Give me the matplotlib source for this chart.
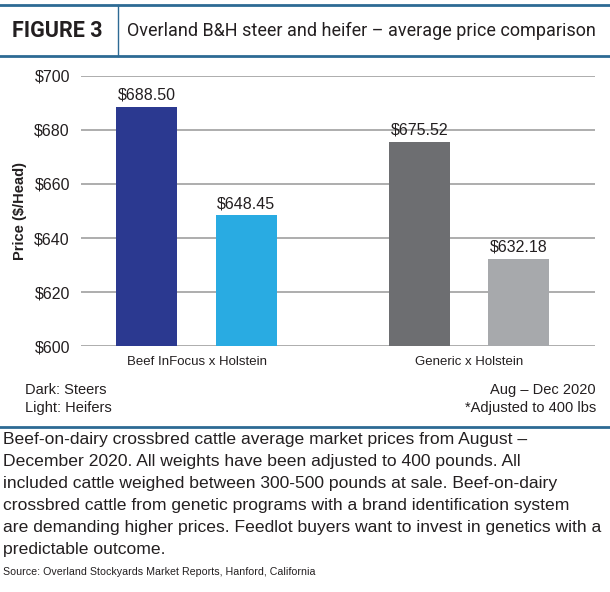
import numpy as np
import matplotlib.pyplot as plt

# data
groups = ["Beef InFocus x Holstein", "Generic x Holstein"]
steers = [688.50, 675.52]
heifers = [648.45, 632.18]
dark_colors = ["#2b3990", "#6d6e71"]
light_colors = ["#29abe2", "#a7a9ac"]
yticks = [600, 620, 640, 660, 680, 700]

title = "Overland B&H steer and heifer \u2013 average price comparison"
body = ("Beef-on-dairy crossbred cattle average market prices from August \u2013\n"
        "December 2020. All weights have been adjusted to 400 pounds. All\n"
        "included cattle weighed between 300-500 pounds at sale. Beef-on-dairy\n"
        "crossbred cattle from genetic programs with a brand identification system\n"
        "are demanding higher prices. Feedlot buyers want to invest in genetics with a\n"
        "predictable outcome.")
source = "Source: Overland Stockyards Market Reports, Hanford, California"

W, H = 610, 592
plain = ["Liberation Sans", "DejaVu Sans"]
line_col = "#2d6a94"
txt = "#231f20"

fig = plt.figure(figsize=(W / 100, H / 100), dpi=100)


def fx(px):
    return px / W


def fy(py):
    return 1 - py / H


# header
fig.add_artist(plt.Line2D([0, 1], [fy(5), fy(5)], color=line_col, lw=2))
fig.add_artist(plt.Line2D([0, 1], [fy(56), fy(56)], color=line_col, lw=2))
fig.add_artist(plt.Line2D([fx(118), fx(118)], [fy(5), fy(56)], color=line_col, lw=1))
fig.text(fx(12), fy(31), "FIGURE 3", fontsize=15.5, fontweight="bold",
         family=["Roboto", "DejaVu Sans"], color=txt, va="center", ha="left")
fig.text(fx(127), fy(31), title, fontsize=13.0, family=["Roboto", "DejaVu Sans"],
         color=txt, va="center", ha="left")

# chart
ax = fig.add_axes([fx(81), fy(346), fx(595) - fx(81), (346 - 76) / H])
x = np.arange(len(groups))
off = 0.183
bw = 0.224
b1 = ax.bar(x - off, np.array(steers) - 600, bw, bottom=600, color=dark_colors, zorder=3)
b2 = ax.bar(x + off, np.array(heifers) - 600, bw, bottom=600, color=light_colors, zorder=3)
for bars, vals in ((b1, steers), (b2, heifers)):
    for r, v in zip(bars, vals):
        ax.annotate(f"${v:.2f}", (r.get_x() + r.get_width() / 2, v),
                    xytext=(0, 3), textcoords="offset points", ha="center", va="bottom",
                    fontsize=11.5, family=plain, color=txt)

ax.set_ylim(600, 700)
ax.set_xlim(-0.424, 1.462)
ax.set_yticks(yticks)
ax.set_yticklabels([f"${t}" for t in yticks], fontsize=11.5, family=plain, color=txt)
ax.set_xticks(x)
ax.set_xticklabels(groups, fontsize=9.5, family=plain, color=txt)
ax.tick_params(length=0, axis="y", pad=8)
ax.tick_params(length=0, axis="x", pad=7)
ax.grid(axis="y", color="#a0a0a0", lw=1.2, zorder=0)
for s in ax.spines.values():
    s.set_visible(False)
ax.set_ylabel("Price ($/Head)", fontsize=10.5, fontweight="bold", family=plain,
              color=txt, labelpad=5)

# notes
fig.text(fx(25), fy(390), "Dark: Steers", fontsize=10.5, family=plain, color=txt, va="center")
fig.text(fx(25), fy(408), "Light: Heifers", fontsize=10.5, family=plain, color=txt, va="center")
fig.text(fx(596), fy(390), "Aug \u2013 Dec 2020", fontsize=10.5, family=plain, color=txt,
         va="center", ha="right")
fig.text(fx(596), fy(408), "*Adjusted to 400 lbs", fontsize=10.5, family=plain, color=txt,
         va="center", ha="right")
fig.add_artist(plt.Line2D([0, 1], [fy(427), fy(427)], color=line_col, lw=2))

# caption
fig.text(fx(3), fy(432), body, fontsize=12.6, family=plain, color=txt, va="top", ha="left",
         linespacing=1.58)
fig.text(fx(3), fy(572), source, fontsize=7.7, family=plain, color=txt, va="center", ha="left")

fig.savefig("out.png", dpi=100)
